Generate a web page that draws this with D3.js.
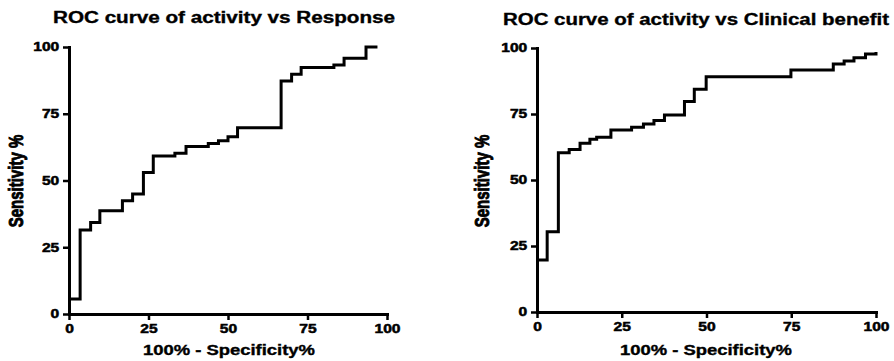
<!DOCTYPE html>
<html>
<head>
<meta charset="utf-8">
<title>ROC curves</title>
<script src="https://d3js.org/d3.v7.min.js"></script>
<style>
  body { margin: 0; background: #fff; }
  svg { display: block; }
  text { font-family: "Liberation Sans", Arial, sans-serif; font-weight: bold; fill: #000; stroke: #000; stroke-width: 0.35px; }
  .tick text { stroke-width: 0.5px; }
  .ylab { stroke-width: 0.7px; }
</style>
</head>
<body>
<script>
// ROC data (100% - specificity, sensitivity), step points
var fprResponse = [0, 3.5, 6.8, 9.7, 16.8, 20, 23.4, 26.5, 33.3, 36.8, 43.8, 47, 50, 53, 66.7, 70, 73, 83.3, 86.5, 93.4, 97];
var tprResponse = [5.6, 31.5, 34.3, 38.7, 42.4, 44.9, 53, 59.2, 60.2, 62.7, 63.9, 64.9, 66.4, 69.8, 87.3, 89.8, 92.3, 93.3, 95.8, 100, 100];

var fprBenefit = [0, 3.0, 6.3, 9.5, 12.7, 15.6, 17.6, 21.8, 27.9, 31.4, 34.5, 37.6, 43.5, 46.4, 49.9, 74.9, 87.4, 90.6, 93.5, 96.9, 100];
var tprBenefit = [19.7, 30.4, 60.3, 61.6, 63.9, 65.4, 66.2, 68.9, 70.0, 71.2, 72.5, 74.6, 79.7, 84.4, 89.1, 91.7, 93.9, 95.1, 96.3, 97.7, 98.5];

var tickValues = [0, 25, 50, 75, 100];
var titles = ["ROC curve of activity vs Response", "ROC curve of activity vs Clinical benefit"];
var xLabel = "100% - Specificity%";
var yLabel = "Sensitivity %";

var W = 894, H = 361;
var stretch = 1.3; // text in the picture is drawn wide

var svg = d3.select("body").append("svg")
    .attr("width", W)
    .attr("height", H);

svg.append("rect").attr("width", W).attr("height", H).attr("fill", "white");

function drawRoc(opt) {
  var x = d3.scaleLinear().domain([0, 100]).range([opt.left, opt.right]);
  var y = d3.scaleLinear().domain([0, 100]).range([opt.bottom, opt.top]);
  var g = svg.append("g");

  // title, stretched to the width seen in the picture
  g.append("text")
    .attr("x", opt.titleX)
    .attr("y", opt.titleY)
    .attr("textLength", opt.titleW)
    .attr("lengthAdjust", "spacingAndGlyphs")
    .style("font-size", "16px")
    .text(opt.title);

  // axes
  var xAxis = g.append("g")
    .attr("transform", "translate(0," + opt.bottom + ")")
    .call(d3.axisBottom(x).tickValues(tickValues).tickSize(6).tickSizeOuter(0).tickPadding(4.5));
  var yAxis = g.append("g")
    .attr("transform", "translate(" + opt.left + ",0)")
    .call(d3.axisLeft(y).tickValues(tickValues).tickSize(6).tickSizeOuter(0).tickPadding(1.5));

  [xAxis, yAxis].forEach(function(a) {
    a.select(".domain").attr("stroke-width", 3).attr("stroke-linecap", "square");
    a.selectAll(".tick line").attr("stroke-width", 2.5);
    a.selectAll(".tick text")
      .style("font-size", "12px")
      .style("font-family", "'Liberation Sans', Arial, sans-serif")
      .style("font-weight", "bold")
      .attr("transform", "scale(" + stretch + ",1)");
  });

  // axis labels
  g.append("text")
    .attr("x", opt.xLabelX)
    .attr("y", opt.xLabelY)
    .attr("text-anchor", "middle")
    .attr("textLength", 172)
    .attr("lengthAdjust", "spacingAndGlyphs")
    .style("font-size", "14px")
    .text(xLabel);

  g.append("text")
    .attr("class", "ylab")
    .attr("transform", "translate(" + opt.yLabelX + "," + opt.yLabelY + ") scale(" + stretch + ",1) rotate(-90)")
    .attr("text-anchor", "middle")
    .style("font-size", "15px")
    .text(yLabel);

  // step curve
  var pts = opt.fpr.map(function(f, i) { return [f, opt.tpr[i]]; });
  var line = d3.line()
    .x(function(d) { return x(d[0]); })
    .y(function(d) { return y(d[1]); })
    .curve(d3.curveStepAfter);

  g.append("path")
    .datum(pts)
    .attr("d", line)
    .attr("fill", "none")
    .attr("stroke", "black")
    .attr("stroke-width", 3)
    .attr("stroke-linejoin", "miter");
}

drawRoc({
  left: 69, right: 387, top: 47, bottom: 314,
  fpr: fprResponse, tpr: tprResponse,
  title: titles[0], titleX: 53, titleY: 23, titleW: 342,
  xLabelX: 229, xLabelY: 355,
  yLabelX: 23, yLabelY: 181
});

drawRoc({
  left: 537, right: 876, top: 48, bottom: 312,
  fpr: fprBenefit, tpr: tprBenefit,
  title: titles[1], titleX: 503, titleY: 25, titleW: 386,
  xLabelX: 706, xLabelY: 355,
  yLabelX: 489, yLabelY: 181
});
</script>
</body>
</html>
